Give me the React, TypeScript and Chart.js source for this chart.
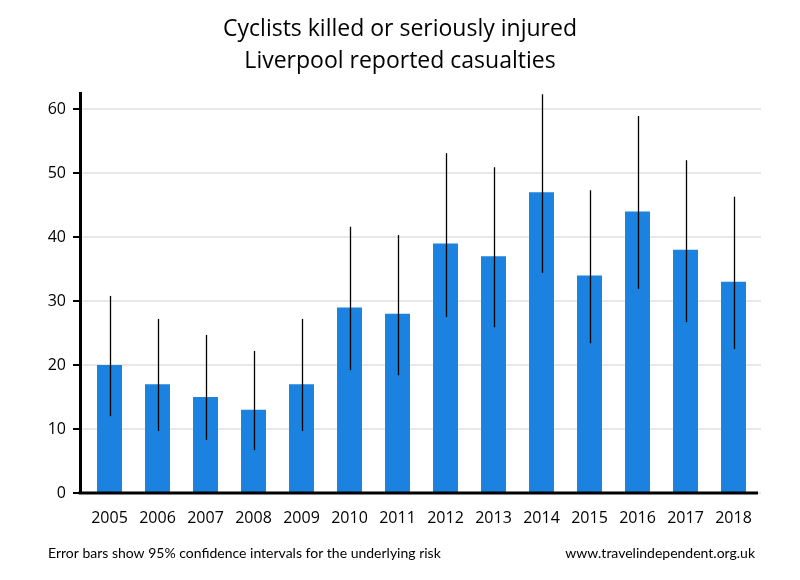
import React, { useEffect, useRef } from "react";
import { Chart, registerables } from "chart.js";

Chart.register(...registerables);

const years = ["2005", "2006", "2007", "2008", "2009", "2010", "2011", "2012", "2013", "2014", "2015", "2016", "2017", "2018"];
const casualties = [20, 17, 15, 13, 17, 29, 28, 39, 37, 47, 34, 44, 38, 33];
const ciLower = [12.0, 9.7, 8.3, 6.7, 9.7, 19.2, 18.4, 27.5, 25.9, 34.4, 23.4, 31.9, 26.7, 22.5];
const ciUpper = [30.8, 27.2, 24.7, 22.2, 27.2, 41.6, 40.3, 53.1, 50.9, 62.3, 47.3, 58.9, 52.0, 46.3];
const yTickValues = [0, 10, 20, 30, 40, 50, 60];
const titleLines = ["Cyclists killed or seriously injured", "Liverpool reported casualties"];
const footLeft = "Error bars show 95% confidence intervals for the underlying risk";
const footRight = "www.travelindependent.org.uk";

const insetPlugin = {
  id: "xInset",
  afterLayout(chart: any) {
    const x = chart.scales.x;
    x.left = chart.chartArea.left + 5.5;
    x.right = chart.chartArea.right - 3.5;
    x.width = x.right - x.left;
    x.configure();
  },
};

const errorBarPlugin = {
  id: "errorBars",
  afterDatasetsDraw(chart: any) {
    const { ctx, scales } = chart;
    const meta = chart.getDatasetMeta(0);
    ctx.save();
    ctx.strokeStyle = "#000";
    ctx.lineWidth = 1.3;
    meta.data.forEach((bar: any, i: number) => {
      const x = Math.round(bar.x) + 0.5;
      ctx.beginPath();
      ctx.moveTo(x, scales.y.getPixelForValue(ciLower[i]));
      ctx.lineTo(x, scales.y.getPixelForValue(ciUpper[i]));
      ctx.stroke();
    });
    ctx.restore();
  },
};

const textPlugin = {
  id: "texts",
  afterDraw(chart: any) {
    const { ctx, width, chartArea, scales } = chart;
    ctx.save();
    const y0 = scales.y.getPixelForValue(0);
    ctx.strokeStyle = "#000";
    ctx.lineWidth = 3;
    ctx.beginPath();
    ctx.moveTo(chartArea.left - 1.5, y0);
    ctx.lineTo(chartArea.right - 3, y0);
    ctx.stroke();
    ctx.fillStyle = "#000";
    ctx.textBaseline = "middle";
    ctx.textAlign = "center";
    ctx.font = "23px 'Open Sans'";
    titleLines.forEach((t, i) => ctx.fillText(t, width / 2, 29 + i * 32));
    ctx.font = "14px Lato";
    ctx.textAlign = "left";
    ctx.fillText(footLeft, 48, 553);
    ctx.textAlign = "right";
    ctx.fillText(footRight, width - 45, 553);
    ctx.restore();
  },
};

export default function App() {
  const ref = useRef<HTMLCanvasElement | null>(null);
  useEffect(() => {
    document.body.style.margin = "0";
    const chart = new Chart(ref.current as HTMLCanvasElement, {
      type: "bar",
      data: {
        labels: years,
        datasets: [
          {
            data: casualties,
            backgroundColor: "#1b82e0",
            barPercentage: 0.52,
            categoryPercentage: 1,
          },
        ],
      },
      plugins: [insetPlugin, errorBarPlugin, textPlugin],
      options: {
        animation: false,
        responsive: false,
        layout: { padding: { left: 8, right: 39, top: 93, bottom: 40 } },
        plugins: {
          legend: { display: false },
          tooltip: { enabled: false },
          title: { display: false },
        },
        scales: {
          x: {
            grid: { display: false, drawTicks: false },
            border: { display: false },
            ticks: { color: "#000", font: { family: "Open Sans", size: 16 }, padding: 16 },
            afterFit: (s: any) => {
              s.height = 47;
            },
          },
          y: {
            min: 0,
            max: 62.5,
            grid: {
              color: "#e8e8e8",
              lineWidth: 2,
              tickColor: "#000",
              tickLength: 7,
              tickWidth: 2,
            },
            border: { display: true, color: "#000", width: 3 },
            ticks: { color: "#000", font: { family: "Open Sans", size: 16 }, padding: 7 },
            afterBuildTicks: (axis: any) => {
              axis.ticks = yTickValues.map((v) => ({ value: v }));
            },
            afterFit: (s: any) => {
              s.width = 72;
            },
          },
        },
      },
    });
    return () => chart.destroy();
  }, []);
  return (
    <div style={{ width: 800, height: 580 }}>
      <canvas ref={ref} width={800} height={580} />
    </div>
  );
}
